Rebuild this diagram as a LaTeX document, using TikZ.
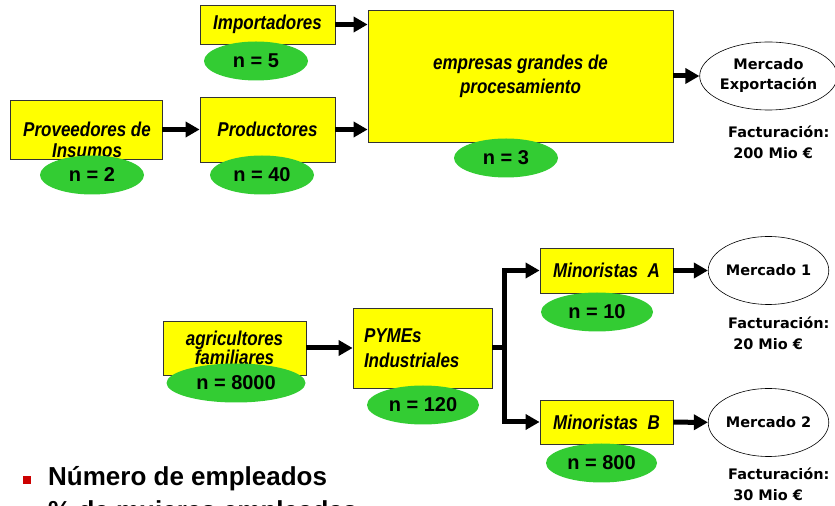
\documentclass[tikz,border=0pt]{standalone}
\usepackage{fontspec}
\setmainfont{Liberation Sans}
\newfontfamily\mercfont{DejaVu Sans}
\newfontfamily\actorfont[FakeStretch=0.85]{Liberation Sans}
\usetikzlibrary{arrows.meta,shapes.geometric}
\definecolor{boxyellow}{rgb}{1.0,1.0,0.0}
\definecolor{countgreen}{rgb}{0.2,0.8,0.2}
\definecolor{bulletred}{rgb}{0.8,0.0,0.0}
\tikzset{
  actor/.style={draw=black!80, line width=0.8bp, fill=boxyellow, align=center,
    font=\fontsize{20bp}{21bp}\selectfont\actorfont\bfseries\itshape},
  count/.style={ellipse, fill=countgreen, inner sep=0pt,
    minimum width=104bp, minimum height=39bp,
    font=\fontsize{20bp}{24bp}\selectfont\bfseries},
  market/.style={ellipse, draw=black, line width=0.6bp, fill=white, inner sep=0pt,
    minimum width=115bp, minimum height=68bp, align=center,
    font=\fontsize{14.5bp}{20bp}\selectfont\mercfont\bfseries},
  turnover/.style={align=left, anchor=west, inner sep=0pt,
    font=\fontsize{14.5bp}{21bp}\selectfont\mercfont\bfseries},
  flow/.style={->, line width=5bp},
}
\begin{document}
\begin{tikzpicture}[>={Triangle[length=14bp,width=15bp]}]
  \useasboundingbox (0bp,0bp) rectangle (835bp,506bp);
%%
  % Chain 1: export
  \node[actor, minimum width=135bp, minimum height=39bp] (imp) at (267.5bp,481.5bp) {Importadores};
  \node[actor, minimum width=152bp, minimum height=59bp] (prov) at (86bp,376.5bp) {};
  \node[align=center, font=\fontsize{20bp}{21bp}\selectfont\actorfont\bfseries\itshape] (provtext)
    at (87bp,366.5bp) {Proveedores de\\Insumos};
  \node[actor, minimum width=135bp, minimum height=65bp] (prod) at (267.5bp,376.5bp) {Productores};
  \node[actor, minimum width=305bp, minimum height=132bp,
    font=\fontsize{20bp}{24bp}\selectfont\actorfont\bfseries\itshape] (proc) at (520.5bp,430bp)
    {empresas grandes de\\procesamiento};
  \node[market] (mexp) at (768.5bp,430bp) {Mercado\\Exportación};
  \node[turnover] (fexp) at (728bp,363.5bp) {Facturación:\\\ 200 Mio €};
  % Edges: chain 1
  \draw[flow] (imp.east) -- (imp.east -| proc.west);
  \draw[flow] (prov) -- (prod);
  \draw[flow] (prod.east) -- (prod.east -| proc.west);
  \draw[flow] (proc) -- (mexp);
  % Counts: chain 1
  \node[count] (nimp) at (256bp,445bp) {n = 5};
  \node[count] (nprov) at (92bp,331bp) {n = 2};
  \node[count] (nprod) at (262bp,331bp) {n = 40};
  \node[count] (nproc) at (506bp,348bp) {n = 3};
%%
  % Chain 2: domestic
  \node[actor, minimum width=143bp, minimum height=54bp,
    font=\fontsize{20bp}{17bp}\selectfont\actorfont\bfseries\itshape] (agr) at (234.5bp,158bp)
    {agricultores\\familiares};
  \node[actor, minimum height=80bp, text width=117bp, inner xsep=11bp, align=left,
    font=\fontsize{20bp}{25bp}\selectfont\actorfont\bfseries\itshape] (pym) at (422.5bp,158bp)
    {PYMEs\\Industriales};
  \node[actor, minimum width=133bp, minimum height=45bp] (mina) at (606.5bp,235.5bp) {Minoristas\ \ A};
  \node[actor, minimum width=133bp, minimum height=44bp] (minb) at (606.5bp,84bp) {Minoristas\ \ B};
  \node[market] (m1) at (768.5bp,235.5bp) {Mercado 1};
  \node[market] (m2) at (768.5bp,83.5bp) {Mercado 2};
  \node[turnover] (f1) at (728bp,172.5bp) {Facturación:\\\ 20 Mio €};
  \node[turnover] (f2) at (728bp,21.5bp) {Facturación:\\\ 30 Mio €};
  \coordinate (split) at (504.5bp,158bp);
  % Edges: chain 2
  \draw[flow] (agr) -- (pym);
  \draw[line width=5bp] (pym.east) -- (split);
  \draw[flow] (split) |- (mina.west);
  \draw[flow] (split) |- (minb.west);
  \draw[flow] (mina) -- (m1);
  \draw[flow] (minb) -- (m2);
  % Counts: chain 2
  \node[count, minimum width=139bp] (nagr) at (236bp,123bp) {n = 8000};
  \node[count, minimum width=112bp] (npym) at (423bp,101bp) {n = 120};
  \node[count, minimum width=112bp] (nmina) at (597bp,194bp) {n = 10};
  \node[count, minimum width=111bp] (nminb) at (601.5bp,43bp) {n = 800};
%%
  % Bullet text
  \fill[bulletred] (22.5bp,22bp) rectangle (30.5bp,30bp);
  \node[anchor=base west, inner sep=0pt, align=left,
    font=\fontsize{26bp}{33.5bp}\selectfont\bfseries] (kpi) at (48bp,-13bp)
    {Número de empleados\\\% de mujeres empleadas};
%
\end{tikzpicture}
\end{document}
